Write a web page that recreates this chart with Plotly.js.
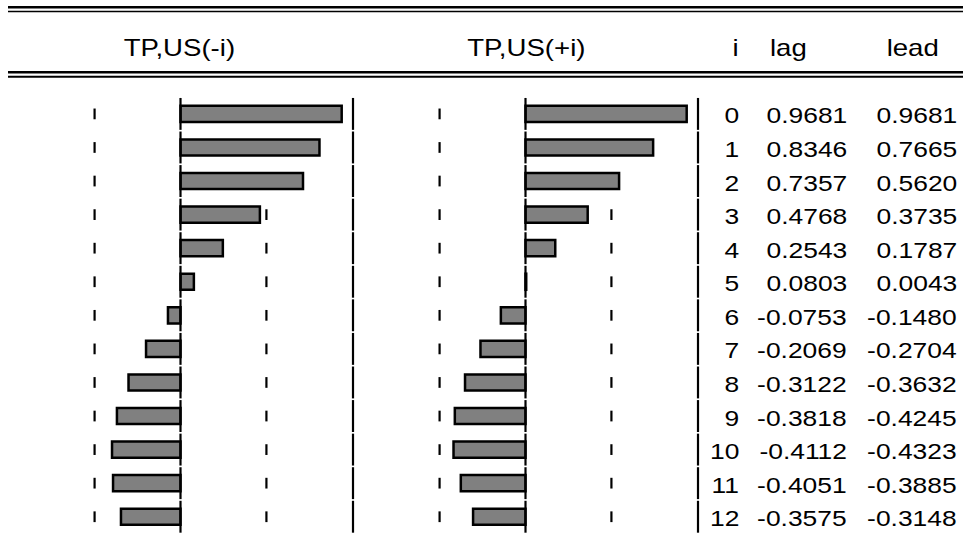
<!DOCTYPE html>
<html>
<head>
<meta charset="utf-8">
<script src="https://cdn.plot.ly/plotly-3.0.1.min.js"></script>
<style>
html,body{margin:0;padding:0;background:#fff;}
#chart{width:963px;height:533px;}
</style>
</head>
<body>
<div id="chart"></div>
<script>
// ---- data ----
const lags = [0,1,2,3,4,5,6,7,8,9,10,11,12];
const lagValues  = [0.9681,0.8346,0.7357,0.4768,0.2543,0.0803,-0.0753,-0.2069,-0.3122,-0.3818,-0.4112,-0.4051,-0.3575];
const leadValues = [0.9681,0.7665,0.5620,0.3735,0.1787,0.0043,-0.1480,-0.2704,-0.3632,-0.4245,-0.4323,-0.3885,-0.3148];
const panelTitles = ["TP,US(-i)","TP,US(+i)"];
const tableHeaders = ["i","lag","lead"];
const sigBand = 0.516;

// ---- geometry (pixels) ----
const W = 963, H = 533;
const px = v => v / W;
const py = v => 1 - v / H;
const FONT = "Liberation Sans, Arial, sans-serif";
const STRETCH = 1.2;

const barStyle = {color:"#808080", line:{color:"#000", width:2.5}};
const traces = [
  {type:"bar", orientation:"h", y:lags, x:lagValues, xaxis:"x", yaxis:"y",
   width:0.48, marker:barStyle, hoverinfo:"none"},
  {type:"bar", orientation:"h", y:lags, x:leadValues, xaxis:"x2", yaxis:"y",
   width:0.48, marker:barStyle, hoverinfo:"none"}
];

const shapes = [];
const segHalf = 0.475, sigHalf = 0.16;
["x","x2"].forEach(ax => {
  lags.forEach(i => {
    [-sigBand, sigBand].forEach(s => shapes.push({type:"line", layer:"below", xref:ax, yref:"y",
      x0:s, x1:s, y0:i-sigHalf, y1:i+sigHalf, line:{color:"#000", width:2.2}}));
    shapes.push({type:"line", xref:ax, yref:"y", x0:0, x1:0, y0:i-segHalf, y1:i+segHalf,
      line:{color:"#000", width:2.2}});
  });
});
[353, 698].forEach(xp => lags.forEach(i => shapes.push({type:"line", xref:"paper", yref:"y",
  x0:px(xp), x1:px(xp), y0:i-segHalf, y1:i+segHalf, line:{color:"#000", width:2.2}})));
[[7.2,2.5],[11.5,1.6],[72.2,2.5],[76.7,2]].forEach(([y,w]) => shapes.push({type:"line",
  xref:"paper", yref:"paper", x0:px(8), x1:1, y0:py(y), y1:py(y), line:{color:"#000", width:w}}));

const annotations = [];
const headerX = [179.5, 526.5, 735, 788, 912];
panelTitles.concat(tableHeaders).forEach((t, k) => annotations.push({text:t, xref:"paper", yref:"paper",
  x:px(headerX[k]), y:py(48), xanchor:"center", yanchor:"middle", showarrow:false,
  font:{family:FONT, size:23, color:"#000"}}));
const colRight = [741, 849, 959];
lags.forEach((i, r) => {
  const cells = [String(i), lagValues[r].toFixed(4), leadValues[r].toFixed(4)];
  cells.forEach((c, k) => annotations.push({text:c, xref:"paper", yref:"y", x:px(colRight[k]), y:i,
    xanchor:"right", yanchor:"middle", yshift:-2, showarrow:false,
    font:{family:FONT, size:22, color:"#000"}}));
});

const hidden = {visible:false, showgrid:false, zeroline:false, fixedrange:true};
const layout = {
  width:W, height:H, margin:{l:0,r:0,t:0,b:0}, paper_bgcolor:"#fff", plot_bgcolor:"rgba(0,0,0,0)",
  showlegend:false, bargap:0,
  xaxis:Object.assign({domain:[px(8), px(353)], range:[-1.036, 1.036], anchor:"y"}, hidden),
  xaxis2:Object.assign({domain:[px(353), px(698)], range:[-1.036, 1.036], anchor:"y"}, hidden),
  yaxis:Object.assign({domain:[0,1], range:[(H-113.9)/33.57, -113.9/33.57]}, hidden),
  shapes:shapes, annotations:annotations
};
Plotly.newPlot("chart", traces, layout, {staticPlot:true, displayModeBar:false}).then(() => {
  // the reference font is horizontally stretched; widen each text about its anchor
  document.querySelectorAll("#chart .annotation-text").forEach((n, k) => {
    const a = annotations[k];
    if (!a) return;
    n.style.transformBox = "fill-box";
    n.style.transformOrigin = a.xanchor === "right" ? "right center" : "center center";
    n.style.transform = "scaleX(" + STRETCH + ")";
  });
});
</script>
</body>
</html>
